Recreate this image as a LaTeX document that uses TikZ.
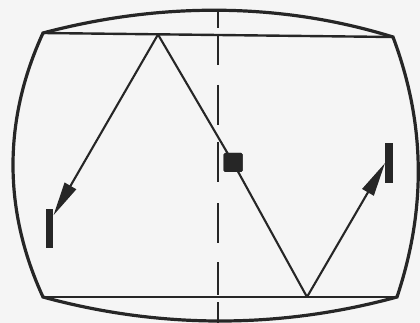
\documentclass[tikz,border=0pt]{standalone}
\usetikzlibrary{arrows.meta}
\begin{document}
\begin{tikzpicture}[x=1pt,y=-1pt,
  frame/.style={line width=3.2pt,draw=black!85},
  rim/.style={line width=2.4pt,draw=black!85},
  ray/.style={line width=2.1pt,draw=black!85},
  arr/.style={ray,-{Triangle[length=34pt,width=13pt]}},
  bar/.style={fill=black!85,draw=none,inner sep=0pt,minimum width=7.5pt},
  sq/.style={fill=black!85,draw=none,inner sep=0pt,minimum size=19pt,rounded corners=1.5pt},
  axis/.style={line width=2.6pt,draw=black!85,
    dash pattern=on 18pt off 8pt on 29pt off 20pt on 40pt off 17pt on 40pt off 21pt on 40pt off 19pt on 33pt off 7pt on 25pt}]
\fill[white!92!gray] (0,0) rectangle (420,323);
\useasboundingbox (0,0) rectangle (420,323);
\coordinate (TL) at (43,33);
\coordinate (TR) at (393,37);
\coordinate (BR) at (397,297);
\coordinate (BL) at (43,297);
\draw[frame] (TL) .. controls (160,2) and (280,2) .. (TR)
  .. controls (426,125) and (426,210) .. (BR)
  .. controls (280,329) and (160,329) .. (BL)
  .. controls (3,210) and (3,120) .. cycle;
\draw[rim] (TL) -- (TR);
\draw[rim] (BL) -- (BR);
\coordinate (D1) at (218,10);
\coordinate (D2) at (218,325);
\draw[axis] (D1) -- (D2);
\coordinate (P1) at (158,34.5);
\coordinate (P2) at (307,297);
\node[bar,minimum height=39pt] (LB) at (49.5,228) {};
\node[bar,minimum height=40pt] (RB) at (389,163) {};
\node[sq] (SQ) at (233,162.5) {};
\draw[ray] (P1) -- (SQ.center) -- (P2);
\node[sq] at (SQ) {};
\draw[arr] (P1) -- ([yshift=-7pt]LB.north east);
\draw[arr] (P2) -- (RB.west);
\end{tikzpicture}
\end{document}
